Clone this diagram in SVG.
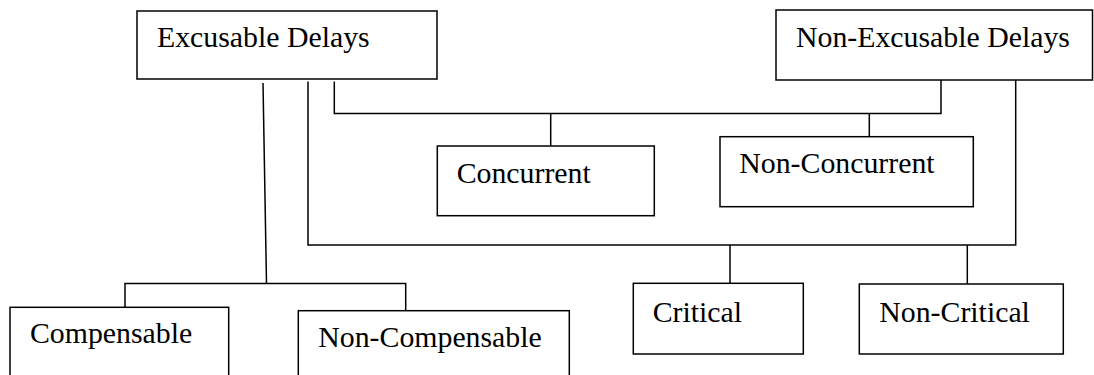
<svg xmlns="http://www.w3.org/2000/svg" width="1094" height="375" viewBox="0 0 1094 375">
<style>
.box{fill:#fff;stroke:#000;stroke-width:1.5}
.lbl{font-family:"Liberation Serif","Times New Roman",serif;font-size:29.8px;fill:#000}
.con{fill:none;stroke:#000;stroke-width:1.5}
</style>
<rect width="1094" height="375" fill="#fff"/>
<g id="connectors">
<path class="con" d="M263 83 L266.5 283.5"/>
<path class="con" d="M125 307.3 V283.5 H405.7 V310.7"/>
<path class="con" d="M308 81.5 V245 H1015.7 V80"/>
<path class="con" d="M334.3 81.5 V113.5 H941 V80"/>
<path class="con" d="M550.7 113.5 V146"/>
<path class="con" d="M869.3 113.5 V136.7"/>
<path class="con" d="M730 245 V283.3"/>
<path class="con" d="M967.3 245 V284"/>
</g>
<g id="excusable"><rect class="box" x="137" y="11" width="300" height="68"/><text class="lbl" x="157" y="47">Excusable Delays</text></g>
<g id="non-excusable"><rect class="box" x="776" y="10" width="316.5" height="70"/><text class="lbl" x="796" y="47">Non-Excusable Delays</text></g>
<g id="concurrent"><rect class="box" x="437.3" y="146" width="217" height="69.7"/><text class="lbl" x="456.7" y="183.3">Concurrent</text></g>
<g id="non-concurrent"><rect class="box" x="720" y="136.7" width="253.3" height="70"/><text class="lbl" x="739.3" y="173.3">Non-Concurrent</text></g>
<g id="compensable"><rect class="box" x="10" y="307.3" width="218.7" height="80"/><text class="lbl" x="30" y="343.3">Compensable</text></g>
<g id="non-compensable"><rect class="box" x="298.3" y="310.7" width="271" height="80"/><text class="lbl" x="318.3" y="346.7">Non-Compensable</text></g>
<g id="critical"><rect class="box" x="633.3" y="283.3" width="170" height="70.7"/><text class="lbl" x="652.7" y="321.7">Critical</text></g>
<g id="non-critical"><rect class="box" x="859.3" y="284" width="204" height="70"/><text class="lbl" x="879.3" y="321.7">Non-Critical</text></g>
</svg>
